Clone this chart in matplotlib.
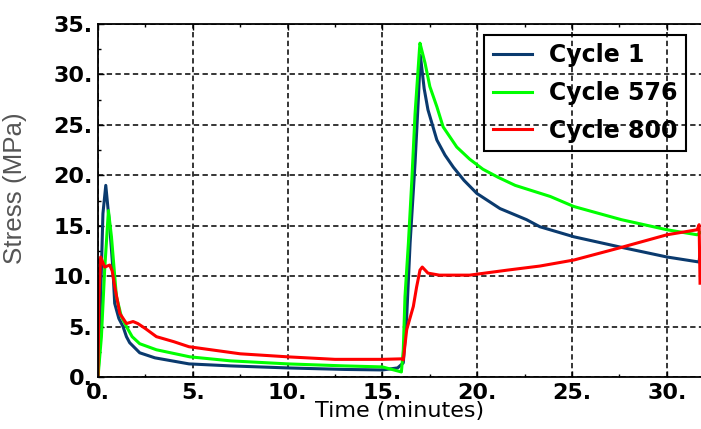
import numpy as np
import matplotlib.pyplot as plt
from matplotlib.ticker import MultipleLocator

# Cycle 1
t1 = [0, 0.05, 0.26, 0.41, 0.62, 0.79, 0.88, 1.1, 1.32, 1.5, 1.67, 2.2, 3.0, 4.8, 7.0, 10, 13, 15, 15.8, 16.1,
      16.28, 16.46, 16.72, 16.9, 17.0, 17.2, 17.4, 17.87, 18.3, 18.74, 19.3, 19.98, 21.2, 22.6, 23.3, 25.1,
      27.5, 30.0, 31.7, 31.75]
s1 = [0, 2, 16.2, 19.0, 14.9, 10.6, 7.3, 5.8, 5.0, 4.0, 3.4, 2.4, 1.9, 1.3, 1.1, 0.9, 0.75, 0.7, 0.9, 1.4,
      6.0, 13.3, 21.2, 27.8, 31.9, 28.6, 26.5, 23.5, 22.0, 20.8, 19.5, 18.2, 16.7, 15.6, 14.9, 13.9,
      12.9, 11.9, 11.4, 12.3]

# Cycle 576
t576 = [0, 0.18, 0.35, 0.55, 0.71, 0.97, 1.23, 1.5, 1.8, 2.2, 3.08, 4.84, 7.0, 10, 13, 15, 16.0, 16.1, 16.19,
        16.37, 16.55, 16.72, 16.95, 16.98, 17.25, 17.5, 17.87, 18.2, 18.92, 19.6, 20.3, 21.1, 22.0, 23.85,
        25.1, 27.6, 30.0, 31.6, 31.75]
s576 = [0, 4, 10.6, 16.5, 13.9, 8.0, 6.0, 5.0, 4.0, 3.3, 2.7, 2.0, 1.6, 1.3, 1.1, 1.0, 0.5, 2.7, 8.0,
        13.3, 19.5, 26.1, 32.4, 33.1, 31.1, 28.8, 26.8, 24.8, 22.8, 21.6, 20.6, 19.8, 19.0, 17.9,
        16.9, 15.6, 14.6, 14.1, 14.3]

# Cycle 800
t800 = [0, 0.05, 0.14, 0.35, 0.62, 0.75, 0.88, 1.15, 1.5, 1.85, 2.1, 2.5, 3.08, 4.0, 4.8, 7.5, 10, 12.5, 15,
        16.0, 16.1, 16.28, 16.63, 16.8, 16.98, 17.1, 17.4, 18.0, 19.6, 21.6, 23.3, 25.1, 27.5, 30.0, 31.6,
        31.7, 31.75]
s800 = [0, 8, 11.9, 10.9, 11.1, 10.5, 9.0, 6.3, 5.3, 5.5, 5.3, 4.8, 4.0, 3.5, 3.0, 2.3, 2.0, 1.75, 1.75,
        1.8, 1.7, 4.7, 7.0, 8.9, 10.6, 10.9, 10.3, 10.1, 10.1, 10.6, 11.0, 11.6, 12.8, 14.1, 14.6,
        15.1, 9.3]

xticks = [0, 5, 10, 15, 20, 25, 30]
xticklabels = ['0.', '5.', '10.', '15.', '20.', '25.', '30.']
yticks = [0, 5, 10, 15, 20, 25, 30, 35]
yticklabels = ['0.', '5.', '10.', '15.', '20.', '25.', '30.', '35.']

fig = plt.figure(figsize=(7.01, 4.29), dpi=100)
ax = fig.add_axes([98 / 701, 52 / 429, 1 - 98 / 701, (377 - 24) / 429])

ax.plot(t1, s1, color='#0a3a6e', lw=2.2, label='Cycle 1')
ax.plot(t576, s576, color='#00ff00', lw=2.2, label='Cycle 576')
ax.plot(t800, s800, color='#ff0000', lw=2.2, label='Cycle 800')

ax.set_xlim(0, 31.8)
ax.set_ylim(0, 35)
ax.set_xticks(xticks)
ax.set_xticklabels(xticklabels)
ax.set_yticks(yticks)
ax.set_yticklabels(yticklabels)
ax.xaxis.set_minor_locator(MultipleLocator(2.5))
ax.yaxis.set_minor_locator(MultipleLocator(2.5))
ax.tick_params(which='both', direction='in', top=True, right=False, width=1.0)
ax.tick_params(which='major', length=4.5, labelsize=16, pad=4)
ax.tick_params(which='minor', length=2.5)
for lab in ax.get_xticklabels() + ax.get_yticklabels():
    lab.set_fontweight('bold')

ax.grid(True, which='major', color='black', lw=1.1, linestyle=(0, (3.5, 2.2)))
for side in ['top', 'left', 'bottom']:
    ax.spines[side].set_linewidth(1.3)
ax.spines['right'].set_visible(False)

ax.set_xlabel('Time (minutes)', fontsize=16, labelpad=-1)
ax.set_ylabel('Stress (MPa)', fontsize=18.7, color='#555555', family='Liberation Sans')
ax.yaxis.set_label_coords(-0.118, 0.535)

leg = ax.legend(loc='upper right', bbox_to_anchor=(686 / 701, 1 - 35 / 429),
                bbox_transform=fig.transFigure, prop={'weight': 'bold', 'size': 17},
                fancybox=False, edgecolor='black', facecolor='none', framealpha=1,
                handlelength=1.65, handletextpad=0.75, labelspacing=0.58, borderaxespad=0,
                borderpad=0.35)
leg.get_frame().set_linewidth(1.5)
leg.set_zorder(1)

fig.savefig('out.png', dpi=100)
